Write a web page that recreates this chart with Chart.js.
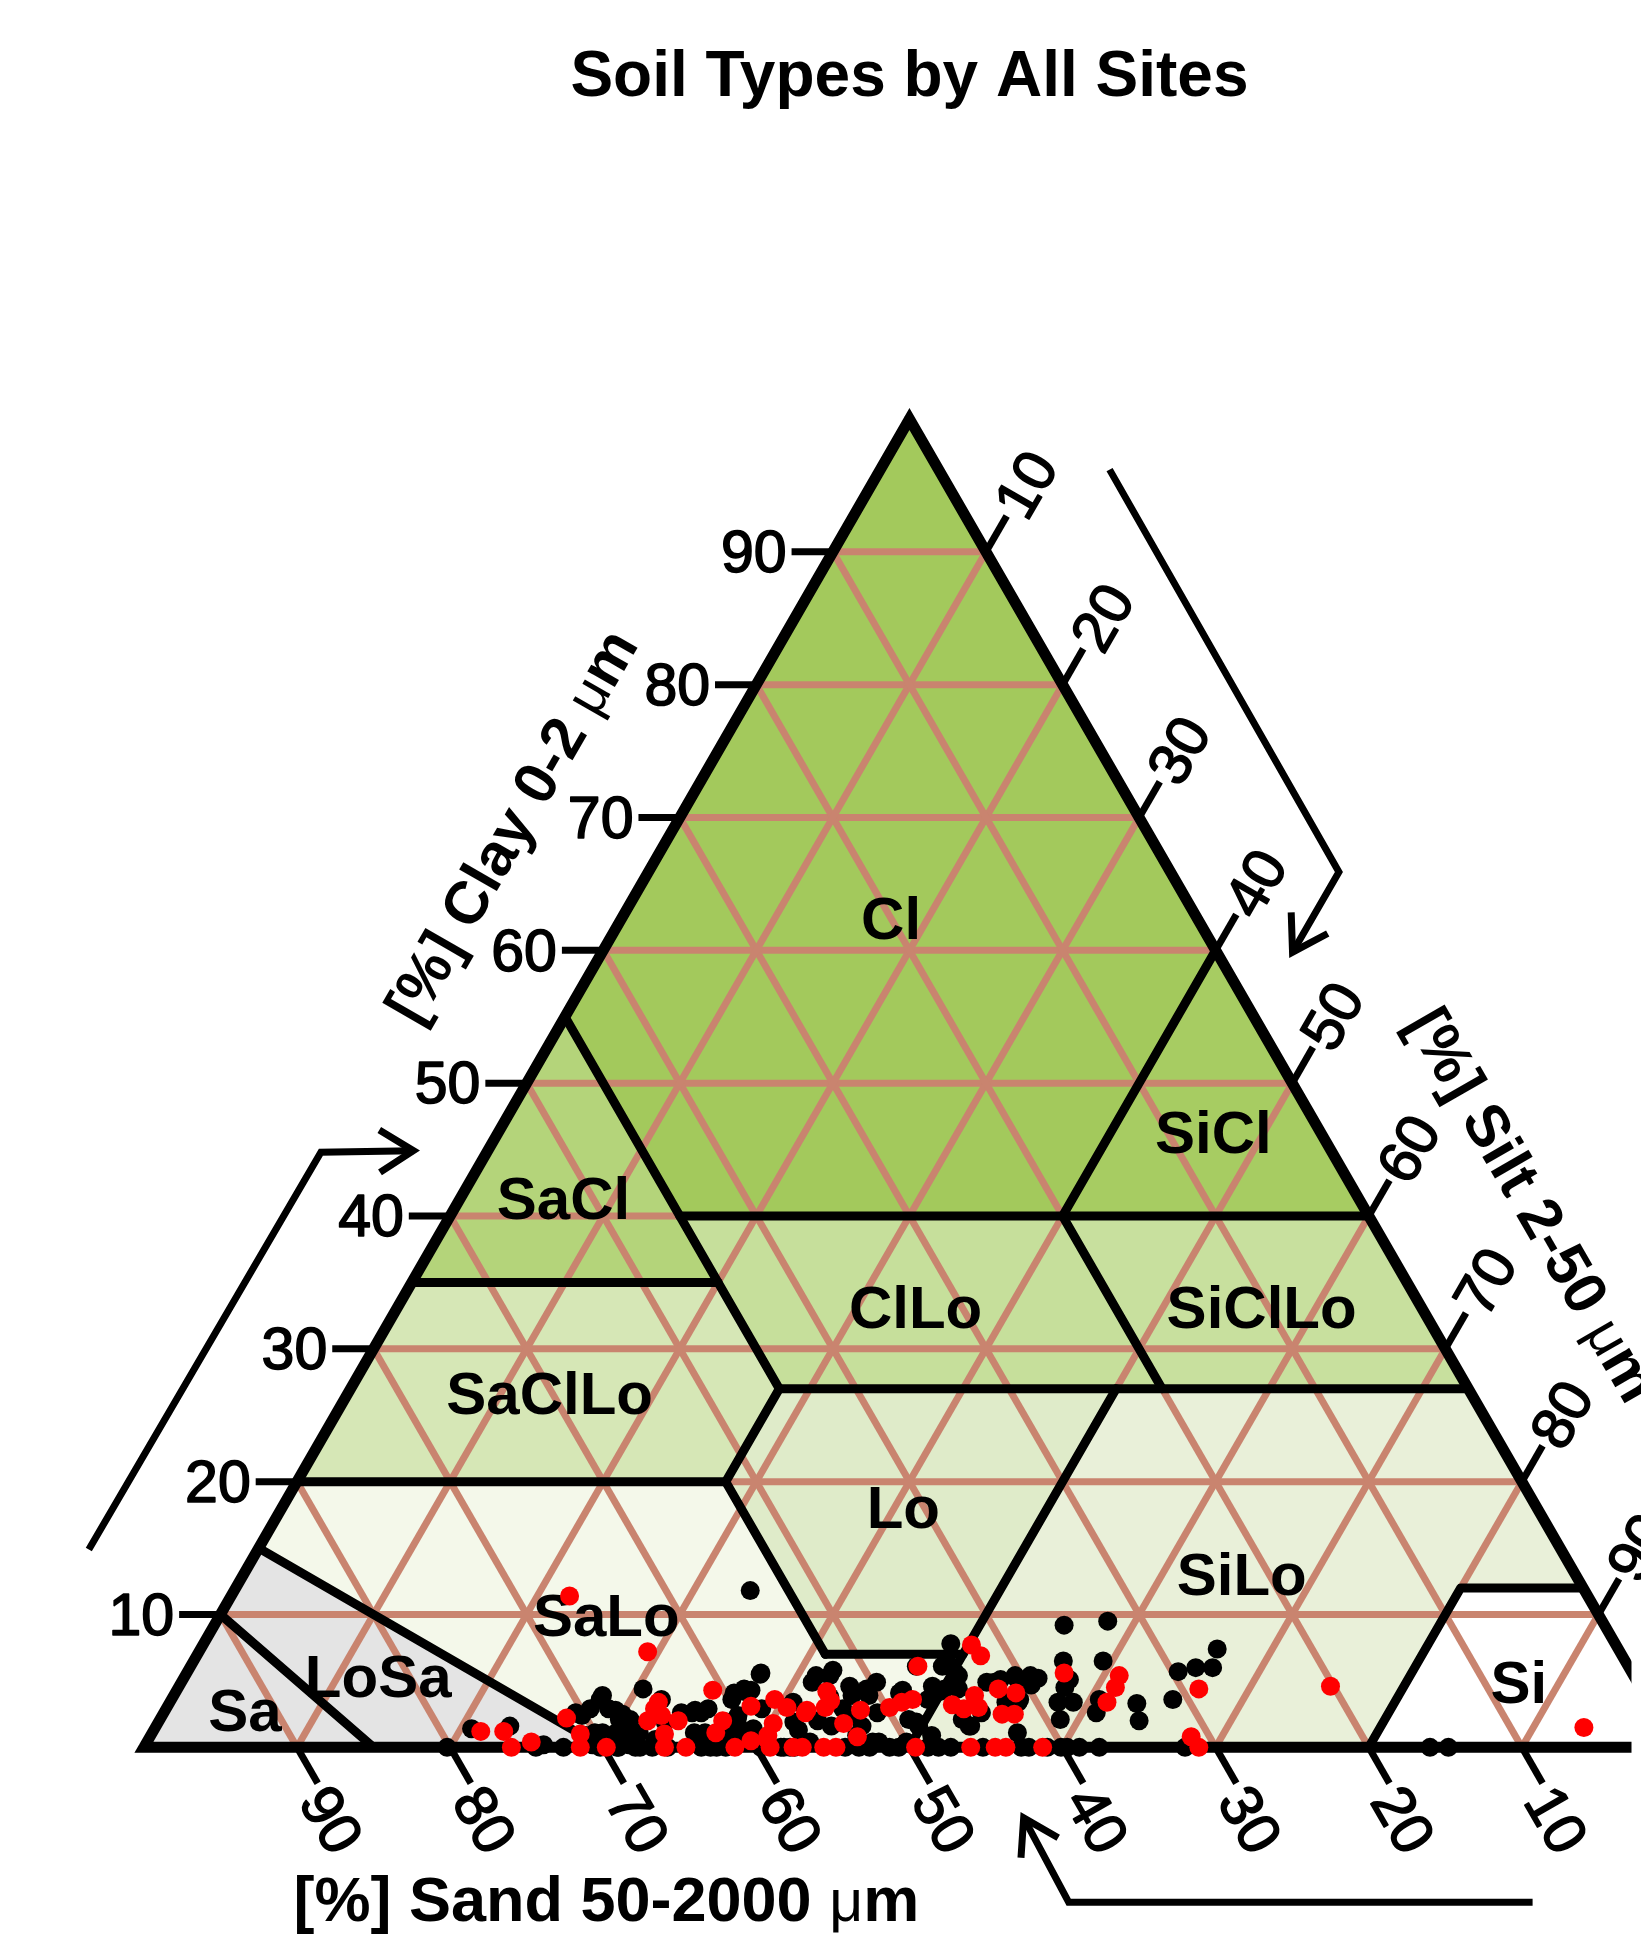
<!DOCTYPE html>
<html>
<head>
<meta charset="utf-8">
<script src="https://cdn.jsdelivr.net/npm/chart.js@4.4.1/dist/chart.umd.min.js"></script>
<style>
html,body{margin:0;padding:0;background:#ffffff;}
#wrap{width:1641px;height:1944px;position:relative;}
canvas{display:block;}
</style>
</head>
<body>
<div id="wrap"><canvas id="c" width="1641" height="1944"></canvas></div>
<script>
// ---------------- DATA ----------------
const chartTitle = 'Soil Types by All Sites';
const tickValues = [10, 20, 30, 40, 50, 60, 70, 80, 90];

// Texture classes (USDA), vertices as [clay, silt, sand] in %
const classNames = ['Cl', 'SiCl', 'SaCl', 'ClLo', 'SiClLo', 'SaClLo', 'Lo', 'SiLo', 'SaLo', 'LoSa', 'Sa', 'Si'];
const classPolygons = [
  [[100,0,0],[55,0,45],[40,15,45],[40,40,20],[60,40,0]],
  [[60,40,0],[40,40,20],[40,60,0]],
  [[55,0,45],[35,0,65],[35,20,45]],
  [[40,15,45],[27,28,45],[27,53,20],[40,40,20]],
  [[40,40,20],[27,53,20],[27,73,0],[40,60,0]],
  [[35,0,65],[20,0,80],[20,28,52],[27,28,45],[35,20,45]],
  [[27,28,45],[20,28,52],[7,41,52],[7,50,43],[27,50,23]],
  [[27,50,23],[0,50,50],[0,80,20],[12,80,8],[12,88,0],[27,73,0]],
  [[20,0,80],[15,0,85],[0,30,70],[0,50,50],[7,50,43],[7,41,52],[20,28,52]],
  [[15,0,85],[10,0,90],[0,15,85],[0,30,70]],
  [[10,0,90],[0,0,100],[0,15,85]],
  [[12,80,8],[0,80,20],[0,100,0],[12,88,0]]
];
// Class boundary lines, [clay, silt, sand]
const classBoundaries = [
  [[55,0,45],[27,28,45]],
  [[40,15,45],[40,60,0]],
  [[60,40,0],[40,40,20]],
  [[40,40,20],[27,53,20]],
  [[35,0,65],[35,20,45]],
  [[27,28,45],[27,73,0]],
  [[27,28,45],[20,28,52]],
  [[20,0,80],[20,28,52]],
  [[20,28,52],[7,41,52]],
  [[7,41,52],[7,50,43]],
  [[27,50,23],[0,50,50]],
  [[0,80,20],[12,80,8],[12,88,0]],
  [[15,0,85],[0,30,70]],
  [[10,0,90],[0,15,85]]
];

// Samples: black series (sand %, clay %)
const blackSand = [77.9,75.3,68.1,68.2,69.4,67.9,70.0,68.5,70.5,68.2,65.2,64.4,66.3,62.9,61.7,63.5,59.4,61.3,57.0,58.6,
  60.4,59.5,54.5,55.9,52.5,53.9,55.0,54.3,50.6,49.7,48.6,49.0,48.6,51.8,52.9,52.3,52.2,43.4,44.3,44.2,
  44.6,42.5,46.2,45.2,45.5,42.0,39.4,39.0,35.3,32.3,36.7,34.1,37.6,38.6,37.6,39.1,35.8,36.5,33.5,34.0,
  31.0,29.6,28.3,26.2,27.2,40.4,41.5,41.2,45.5,63.6,62.3,67.5,68.6,70.6,73.8,60.0,39.7,
  70.2,68.4,67.8,67.2,70.7,69.5,68.1,67.1,70.2,69.0,67.9,62.6,62.8,59.8,60.5,63.0,62.0,56.9,58.2,60.2,
  60.5,56.6,56.3,57.8,53.4,52.1,51.6,50.7,50.8,53.0,51.8,48.3,47.0,48.6,48.1,50.0,44.8,44.1,45.3,44.0,
  42.0,40.4,41.0,42.4,58.7,58.2,61.0,53.3,52.4,46.5,45.9,37.0,56.6,65.0,67.6,
  80.2,74.4,72.6,69.1,67.6,66.8,65.8,63.6,62.6,59.7,58.4,58.2,57.5,54.2,53.3,52.6,51.3,50.7,48.8,48.1,
  47.3,45.2,42.7,42.2,41.0,40.1,39.7,38.9,37.6,32.0,16.0,14.8];
const blackClay = [1.4,1.6,3.9,2.9,2.9,2.1,1.1,0.9,2.6,0.2,4.4,3.6,0.6,2.6,2.9,1.1,4.1,1.1,5.5,4.4,
  1.6,1.4,11.8,3.4,5.4,4.9,2.0,1.6,4.4,4.9,4.1,2.1,1.6,3.9,2.9,1.6,0.4,7.8,6.6,5.6,
  4.4,4.9,4.6,1.6,2.1,3.4,5.4,5.2,9.2,9.5,6.5,6.5,4.5,3.4,3.4,2.1,3.6,2.6,3.3,2.0,
  3.6,5.7,6.0,7.4,6.0,5.1,5.1,3.4,4.4,2.6,2.6,2.5,1.1,0.2,0.2,2.4,4.7,
  2.4,3.6,2.8,2.1,0.9,1.1,0.9,1.1,0,0,0,2.8,1.1,3.6,1.3,0,0,5.6,4.3,2.1,
  0.9,1.3,0.4,0,5.4,5.8,4.6,3.9,2.6,0.9,0.4,4.3,3.6,1.9,0.9,0.4,6.1,5.4,1.6,2.6,
  4.9,5.4,3.6,1.1,4.2,2.9,1.9,3.8,2.4,6.1,4.2,5.1,1.9,1.9,2.4,
  0,0,0,0,0,0,0,0,0,0,0,0,0,0,0,0,0,0,0,0,
  0,0,0,0,0,0,0,0,0,0,0,0];

// Samples: red series (sand %, clay %)
const redSand = [77.4,75.9,76.0,74.5,71.3,71.0,71.5,69.8,64.7,66.1,65.5,66.0,64.1,64.6,62.1,61.2,61.4,58.8,57.0,56.5,
  58.0,59.0,60.1,59.1,57.6,55.5,57.0,53.3,53.4,54.0,53.4,53.0,51.8,55.6,54.8,49.8,48.8,48.0,49.6,46.4,
  42.1,41.9,45.6,43.8,44.0,45.0,42.0,41.0,42.7,41.9,46.0,44.4,43.7,41.3,37.1,33.6,34.3,35.4,28.9,31.2,
  31.1,20.2,5.2,66.5,63.5,60.7,55.3,58.8,65.2,65.0];
const redClay = [1.2,1.2,0,0.4,2.2,1.0,0,0,3.4,2.0,1.0,0,2.0,0,1.1,2.0,0,3.1,3.6,3.0,
  1.8,0.6,0.5,0,0,2.6,0,4.2,3.5,3.0,1.8,0.8,2.8,0,0,3.0,3.4,3.6,0,6.1,
  7.7,6.9,3.2,3.9,3.0,2.9,4.4,4.1,2.5,2.5,0,0,0,0,5.6,5.4,4.5,3.4,4.4,0.8,
  0,4.6,1.5,11.4,7.2,4.3,2.8,0.9,2.9,2.4];

// ---------------- STYLES / LAYOUT ----------------
const classColors = ['#a3c95c','#a7cc62','#b4d47a','#c6df9b','#c8e09e','#d6e7b6','#dfebc9','#e9f0d9','#f4f8ea','#e4e4e4','#e4e4e4','#ffffff'];
const classLabelXY = {Cl:[48.8,53.8], SiCl:[69.85,39.8], SaCl:[27.4,35.5], ClLo:[50.4,28.4], SiClLo:[73.0,28.4],
  SaClLo:[26.5,22.8], Lo:[49.6,15.4], SiLo:[71.7,11.0], SaLo:[30.2,8.35], LoSa:[15.3,4.35], Sa:[6.6,2.15], Si:[89.8,4.0]};
const gridColor = '#c9846f';
const FONT = '"Liberation Sans", Arial, Helvetica, sans-serif';
const UNIT = 15.49;          // px per % on both axes
const LEFT_PX = 136, BASE_PX = 1755, W = 1641, H = 1944;
const tickLen = 2.7;         // in % units
const arrows = [             // paths in cartesian % units
  [[-3.6,12.9],[11.56,38.8],[17.6,38.9]],
  [[63.07,83.3],[78.05,57.07],[75.02,51.84]],
  [[90.7,-10.1],[60.4,-10.1],[57.46,-4.6]]
];

// ---------------- HELPERS ----------------
const S3 = Math.sqrt(3) / 2;
function tern(clay, silt, sand) { return {x: silt + clay / 2, y: clay * S3}; }
function fromSandClay(sand, clay) { return tern(clay, 100 - sand - clay, sand); }
function poly(v) { return v.map(p => tern(p[0], p[1], p[2])); }

const datasets = [];
classPolygons.forEach((v, i) => {
  const pts = poly(v); pts.push(pts[0]);
  datasets.push({type:'line', label:'fill-' + classNames[i], data: pts, fill:'shape', backgroundColor: classColors[i],
    borderWidth: 0, borderColor:'rgba(0,0,0,0)', pointRadius: 0, tension: 0, order: 100});
});
tickValues.forEach(v => {
  const lines = [
    [tern(v, 0, 100 - v), tern(v, 100 - v, 0)],
    [tern(0, 100 - v, v), tern(100 - v, 0, v)],
    [tern(0, v, 100 - v), tern(100 - v, v, 0)]
  ];
  lines.forEach(l => datasets.push({type:'line', label:'grid', data: l, borderColor: gridColor, borderWidth: 7,
    pointRadius: 0, fill: false, tension: 0, order: 90, borderCapStyle:'butt'}));
});
classBoundaries.forEach(b => datasets.push({type:'line', label:'bound', data: poly(b), borderColor:'#000', borderWidth: 9,
  pointRadius: 0, fill: false, tension: 0, order: 80, borderCapStyle:'round', borderJoinStyle:'round'}));
(function(){
  const t = poly([[0,0,100],[100,0,0],[0,100,0]]); t.push(t[0]); t.push(t[1]);
  datasets.push({type:'line', label:'outline', data: t, borderColor:'#000', borderWidth: 11, pointRadius: 0,
    fill: false, tension: 0, order: 70, borderJoinStyle:'miter'});
})();
tickValues.forEach(v => {
  const a = tern(v, 0, 100 - v);
  datasets.push({type:'line', label:'tick', data:[a, {x:a.x - tickLen, y:a.y}], borderColor:'#000', borderWidth: 7, pointRadius:0, order: 60});
  const b = tern(0, 100 - v, v);
  datasets.push({type:'line', label:'tick', data:[b, {x:b.x + tickLen*0.5, y:b.y - tickLen*S3}], borderColor:'#000', borderWidth: 7, pointRadius:0, order: 60});
  const c = tern(100 - v, v, 0);
  datasets.push({type:'line', label:'tick', data:[c, {x:c.x + tickLen*0.5, y:c.y + tickLen*S3}], borderColor:'#000', borderWidth: 7, pointRadius:0, order: 60});
});
arrows.forEach(path => {
  const pts = path.map(p => ({x:p[0], y:p[1]}));
  datasets.push({type:'line', label:'arrow', data: pts, borderColor:'#000', borderWidth: 7, pointRadius: 0, order: 60,
    borderJoinStyle:'miter'});
  const tip = pts[pts.length-1], prev = pts[pts.length-2];
  const dx = prev.x - tip.x, dy = prev.y - tip.y, L = Math.hypot(dx, dy);
  const ux = dx / L, uy = dy / L, hl = 2.6, ang = 32 * Math.PI / 180;
  const rot = (a) => ({x: tip.x + hl*(ux*Math.cos(a) - uy*Math.sin(a)), y: tip.y + hl*(ux*Math.sin(a) + uy*Math.cos(a))});
  datasets.push({type:'line', label:'arrowhead', data:[rot(ang), tip, rot(-ang)], borderColor:'#000', borderWidth: 7,
    pointRadius: 0, order: 60, borderJoinStyle:'miter'});
});
datasets.push({type:'scatter', label:'black', data: blackSand.map((s,i) => fromSandClay(s, blackClay[i])),
  backgroundColor:'#000000', borderWidth:0, pointRadius: 9.5, order: 10});
datasets.push({type:'scatter', label:'red', data: redSand.map((s,i) => fromSandClay(s, redClay[i])),
  backgroundColor:'#ff0000', borderWidth:0, pointRadius: 9.5, order: 5});

// ---------------- TEXT PLUGIN ----------------
function px(chart, x, y) { return [chart.scales.x.getPixelForValue(x), chart.scales.y.getPixelForValue(y)]; }
function rtext(ctx, str, x, y, ang, align, base, font, stroke) {
  ctx.save(); ctx.translate(x, y); ctx.rotate(ang); ctx.font = font; ctx.textAlign = align; ctx.textBaseline = base;
  ctx.fillStyle = '#000'; ctx.fillText(str, 0, 0);
  if (stroke) { ctx.strokeStyle = '#000'; ctx.lineWidth = stroke; ctx.lineJoin = 'round'; ctx.strokeText(str, 0, 0); }
  ctx.restore();
}
function rich(ctx, parts, x, y, ang, dy) {
  ctx.save(); ctx.translate(x, y); ctx.rotate(ang); ctx.textAlign = 'left'; ctx.textBaseline = 'alphabetic'; ctx.fillStyle = '#000';
  let total = 0;
  parts.forEach(p => { ctx.font = p.f; p.w = ctx.measureText(p.t).width; total += p.w; });
  let cx = -total / 2;
  parts.forEach(p => { ctx.font = p.f; ctx.fillText(p.t, cx, dy); cx += p.w; });
  ctx.restore();
}
const textPlugin = {
  id: 'ternText',
  beforeDatasetDraw(chart, args) {
    const ds = chart.data.datasets[args.index];
    if (ds.label !== 'black') return;
    const ctx = chart.ctx;
    classNames.forEach(n => {
      const p = classLabelXY[n]; const [x, y] = px(chart, p[0], p[1]);
      rtext(ctx, n, x, y, 0, 'center', 'middle', 'bold 60px ' + FONT);
    });
  },
  afterDatasetsDraw(chart) {
    const ctx = chart.ctx;
    const tf = '59px ' + FONT;
    tickValues.forEach(v => {
      const a = tern(v, 0, 100 - v);
      let [x, y] = px(chart, a.x - tickLen, a.y);
      rtext(ctx, String(v), x - 5, y + 4, 0, 'right', 'middle', tf, 1.6);
      const b = tern(0, 100 - v, v);
      [x, y] = px(chart, b.x + tickLen*0.5, b.y - tickLen*S3);
      rtext(ctx, String(v), x - 6, y + 10, Math.PI / 3, 'left', 'middle', tf, 1.6);
      const c = tern(100 - v, v, 0);
      [x, y] = px(chart, c.x + tickLen*0.5, c.y + tickLen*S3);
      rtext(ctx, String(v), x + 6, y - 1, -Math.PI / 3, 'left', 'middle', tf, 1.6);
    });
    let [tx, ty] = px(chart, 50, 107.65);
    rtext(ctx, chartTitle, tx, ty, 0, 'center', 'alphabetic', 'bold 64px ' + FONT);
    const bf = 'bold 60px ' + FONT, mf = '56px ' + FONT;
    [tx, ty] = px(chart, 23.95, 60.1);
    rich(ctx, [{t:'[%] Clay 0-2 ', f:bf}, {t:'\u03bc', f:mf}, {t:'m', f:bf}], tx, ty, -Math.PI / 3, 21);
    [tx, ty] = px(chart, 90.8, 35.4);
    rich(ctx, [{t:'[%] Silt 2-50 ', f:bf}, {t:'\u03bc', f:mf}, {t:'m', f:bf}], tx, ty, Math.PI / 3, 21);
    [tx, ty] = px(chart, 30.2, -11.35);
    const sf = 'bold 63px ' + FONT, smf = '59px ' + FONT;
    rich(ctx, [{t:'[%] Sand 50-2000 ', f:sf}, {t:'\u03bc', f:smf}, {t:'m', f:sf}], tx, ty, 0, 0);
  }
};

// ---------------- CHART ----------------
new Chart(document.getElementById('c'), {
  type: 'scatter',
  data: { datasets },
  options: {
    responsive: false,
    animation: false,
    events: [],
    layout: { padding: 0 },
    scales: {
      x: { type:'linear', display:false, bounds:'data', min: -LEFT_PX / UNIT, max: (W - LEFT_PX) / UNIT },
      y: { type:'linear', display:false, bounds:'data', min: (BASE_PX - H) / UNIT, max: BASE_PX / UNIT }
    },
    plugins: { legend:{display:false}, tooltip:{enabled:false}, title:{display:false} },
    elements: { line: { tension: 0 } }
  },
  plugins: [textPlugin]
});
</script>
</body>
</html>
